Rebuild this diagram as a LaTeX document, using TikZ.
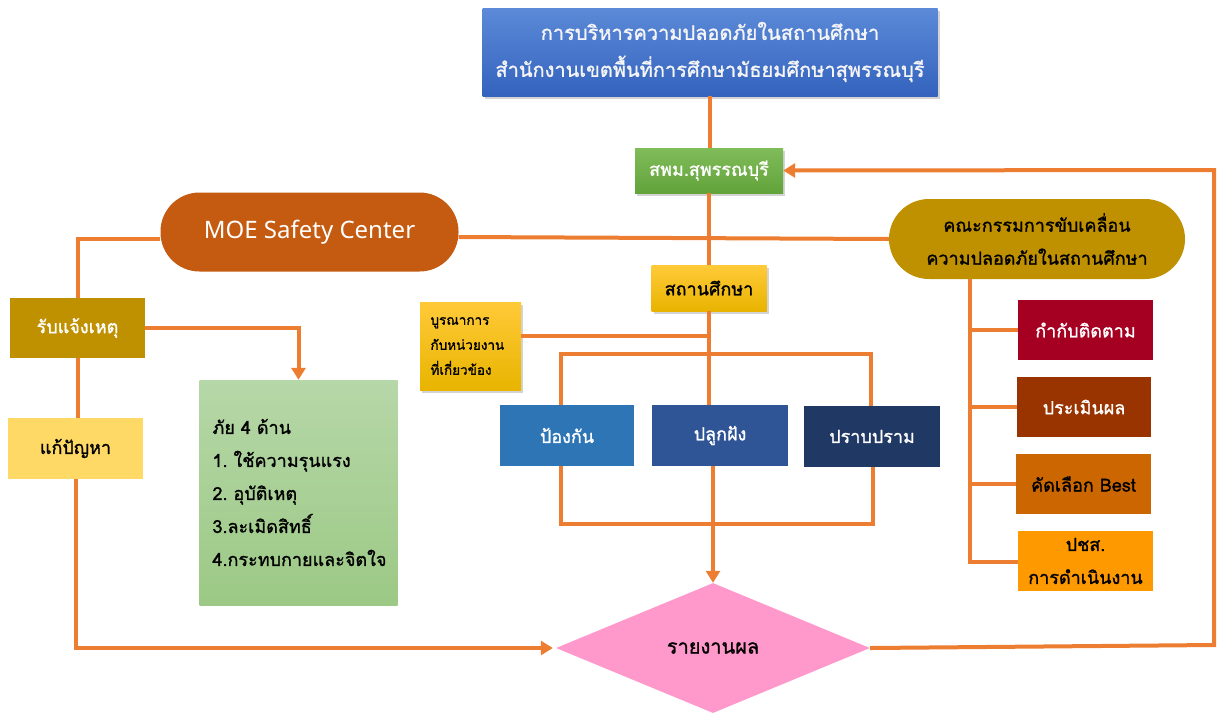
\documentclass[tikz,border=0pt]{standalone}
\usepackage{fontspec}
\setmainfont[Script=Thai,FakeBold=1.2]{Loma}
\newfontfamily\moefont{Noto Sans}
\frenchspacing
\usetikzlibrary{arrows.meta,shapes.geometric,shadows,calc}
\definecolor{lnc}{HTML}{ED7D31}
\definecolor{ttop}{HTML}{5C8AD8}
\definecolor{tbot}{HTML}{3463BE}
\definecolor{gtop}{HTML}{80BC5A}
\definecolor{gbot}{HTML}{62A33A}
\definecolor{ytop}{HTML}{FFCA38}
\definecolor{ybot}{HTML}{E8B400}
\definecolor{ltop}{HTML}{B6D7A8}
\definecolor{lbot}{HTML}{9CC985}
\definecolor{moec}{HTML}{C55A11}
\definecolor{gold}{HTML}{BF9000}
\definecolor{lyel}{HTML}{FFD966}
\definecolor{b1}{HTML}{2E75B6}
\definecolor{b2}{HTML}{2F5597}
\definecolor{b3}{HTML}{203864}
\definecolor{r1}{HTML}{A50021}
\definecolor{r2}{HTML}{993300}
\definecolor{r3}{HTML}{CC6600}
\definecolor{r4}{HTML}{FF9900}
\definecolor{pinkc}{HTML}{FF99CC}
\tikzset{
  box/.style={rectangle, inner sep=0pt, font=\fontsize{18}{21}\selectfont, align=center},
  shad/.style={drop shadow={shadow xshift=2pt, shadow yshift=-3pt, opacity=0.35}},
  conn/.style={draw=lnc, line width=4pt},
  arr/.style={conn, -{Triangle[width=14pt,length=12pt]}},
}
\begin{document}
\begin{tikzpicture}[x=1pt,y=-1pt]
\useasboundingbox (0,0) rectangle (1217,713);
% nodes
\node[box, shad, top color=ttop, bottom color=tbot, text=white!96!black,
  minimum width=455pt, minimum height=88pt, font=\fontsize{20}{37}\selectfont]
  (title) at (710,52) {การบริหารความปลอดภัยในสถานศึกษา\\สำนักงานเขตพื้นที่การศึกษามัธยมศึกษาสุพรรณบุรี};
\node[box, shad, top color=gtop, bottom color=gbot, text=white,
  minimum width=148pt, minimum height=45pt] (spm) at (709,170.5) {สพม.สุพรรณบุรี};
\node[box, fill=moec, text=white, rounded corners=39pt,
  minimum width=298pt, minimum height=79pt, font=\moefont\fontsize{24}{28}\selectfont]
  (moe) at (309.5,232) {MOE Safety Center};
\node[box, fill=gold, text=white, minimum width=135pt, minimum height=60pt] (rap) at (77.5,328) {รับแจ้งเหตุ};
\node[box, fill=lyel, text=black, minimum width=135pt, minimum height=61pt] (kae) at (75.5,448.5) {แก้ปัญหา};
\node[box, top color=ltop, bottom color=lbot, text=black, minimum width=198pt, minimum height=225pt,
  align=left, text width=172pt, font=\fontsize{18}{33}\selectfont]
  (grn) at (298.5,492.5) {ภัย 4 ด้าน\\1. ใช้ความรุนแรง\\2. อุบัติเหตุ\\3.ละเมิดสิทธิ์\\4.กระทบกายและจิตใจ};
\node[box, shad, top color=ytop, bottom color=ybot, text=black, minimum width=101pt, minimum height=88pt,
  align=left, text width=80pt, font=\fontsize{13.5}{25}\selectfont]
  (bur) at (470.5,346) {บูรณาการ\\กับหน่วยงาน\\ที่เกี่ยวข้อง};
\node[box, shad, top color=ytop, bottom color=ybot, text=black,
  minimum width=115pt, minimum height=46pt] (sath) at (709,288) {สถานศึกษา};
\node[box, fill=b1, text=white, minimum width=134pt, minimum height=61pt] (pong) at (567,435.5) {ป้องกัน};
\node[box, fill=b2, text=white, minimum width=136pt, minimum height=61pt] (pluk) at (720,435.5) {ปลูกฝัง};
\node[box, fill=b3, text=white, minimum width=136pt, minimum height=61pt] (prab) at (872,436.5) {ปราบปราม};
\node[box, fill=gold, text=black, rounded corners=40pt, minimum width=296pt, minimum height=80pt,
  font=\fontsize{18}{33}\selectfont] (kana) at (1037,239) {คณะกรรมการขับเคลื่อน\\ความปลอดภัยในสถานศึกษา};
\node[box, fill=r1, text=white, minimum width=135pt, minimum height=60pt] (kam) at (1085.5,330) {กำกับติดตาม};
\node[box, fill=r2, text=white, minimum width=134pt, minimum height=60pt] (pra) at (1084,407) {ประเมินผล};
\node[box, fill=r3, text=black, minimum width=135pt, minimum height=60pt] (kat) at (1083.5,484) {คัดเลือก Best};
\node[box, fill=r4, text=black, minimum width=135pt, minimum height=60pt,
  font=\fontsize{18}{33}\selectfont] (pch) at (1085.5,561) {ปชส.\\การดำเนินงาน};
\node[diamond, fill=pinkc, inner sep=0pt, aspect=2.42, minimum width=314pt, minimum height=130pt,
  font=\fontsize{20}{24}\selectfont, text=black] (dia) at (713,648) {รายงานผล};
% helper coordinates
\coordinate (barL) at (561,354);
\coordinate (barR) at (871,354);
\coordinate (botL) at (561,524);
\coordinate (botR) at (873,524);
\coordinate (botM) at (713,524);
\coordinate (rc1) at (1214,645);
\coordinate (rc2) at (1214,170);
\coordinate (kv) at (970,562);
% connectors
\draw[conn] (title.south) -- (title.south |- spm.north);
\draw[conn] (spm.south) -- (spm.south |- sath.north);
\draw[conn] (sath.south) -- (sath.south |- pluk.north);
\draw[conn] ([yshift=10pt]bur.east) -- ([yshift=10pt]bur.east -| sath.south);
\draw[conn] (pong.north -| barL) -- (barL) -- (barR) -- (prab.north -| barR);
\draw[conn] (pong.south -| botL) -- (botL) -- (botR) -- (prab.south -| botR);
\draw[arr] (pluk.south -| botM) -- (dia.north);
\draw[conn] ([yshift=-7pt]moe.west) -| (rap.north);
\draw[conn] ([yshift=-5pt]moe.east) -- (kana.west);
\draw[arr] (rap.east) -| (grn.north);
\draw[conn] (rap.south) -- (rap.south |- kae.north);
\draw[arr, shorten >=3pt] (kae.south) |- (dia.west);
\draw[arr] (dia.east) -- (rc1) -- (rc2) -- (spm.east);
\draw[conn] (kana.south -| kv) -- (kv) -- (kv -| pch.west);
\draw[conn] (kv |- kam.west) -- (kam.west);
\draw[conn] (kv |- pra.west) -- (pra.west);
\draw[conn] (kv |- kat.west) -- (kat.west);
\end{tikzpicture}
\end{document}
